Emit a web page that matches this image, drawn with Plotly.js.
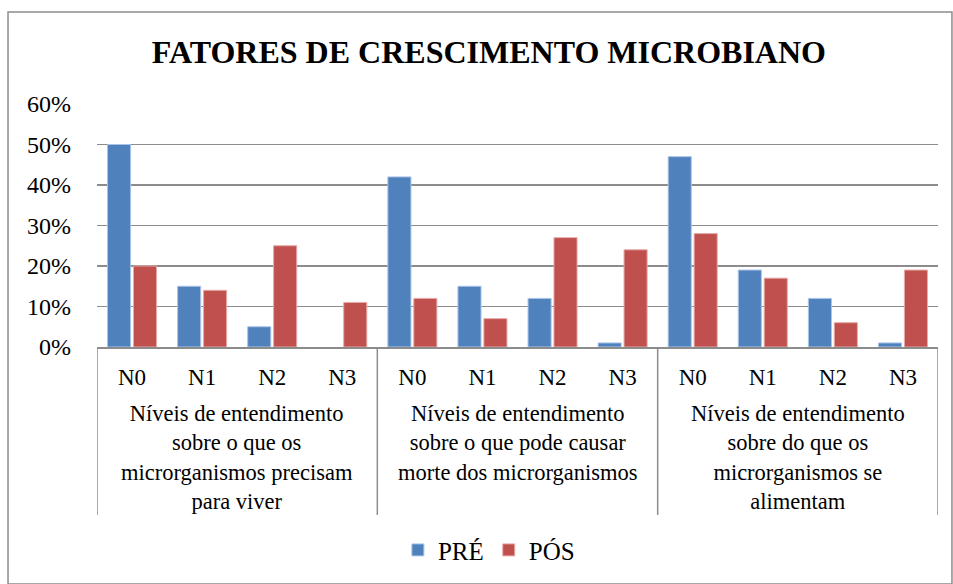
<!DOCTYPE html>
<html><head><meta charset="utf-8">
<script src="https://cdn.plot.ly/plotly-3.0.1.min.js"></script>
<style>html,body{margin:0;padding:0;background:#fff}#c{width:953px;height:584px}</style>
</head><body><div id="c"></div>
<script>
const levels = ["N0","N1","N2","N3"];
const groups = [
  "Níveis de entendimento<br>sobre o que os<br>microrganismos precisam<br>para viver",
  "Níveis de entendimento<br>sobre o que pode causar<br>morte dos microrganismos",
  "Níveis de entendimento<br>sobre do que os<br>microrganismos se<br>alimentam"
];
const pre = [0.50,0.15,0.05,0.00, 0.42,0.15,0.12,0.01, 0.47,0.19,0.12,0.01];
const pos = [0.20,0.14,0.25,0.11, 0.12,0.07,0.27,0.24, 0.28,0.17,0.06,0.19];
const seriesNames = ["PRÉ","PÓS"];

const xs = pre.map((_,i)=>i);
const tickText = xs.map(i=>levels[i%4]);
const font = "Liberation Serif";

const traces = [
  {type:"bar", x:xs, y:pre, name:seriesNames[0], marker:{color:"#4F81BD", line:{color:"#A9C4E8", width:pre.map(v=>v>0?1:0)}}},
  {type:"bar", x:xs, y:pos, name:seriesNames[1], marker:{color:"#C0504D", line:{color:"#E6A9A8", width:pos.map(v=>v>0?1:0)}}}
];

const shapes = [];
for (let g=0; g<=groups.length; g++) {
  shapes.push({type:"line", xref:"x", yref:"paper", x0:g*4-0.5, x1:g*4-0.5, y0:0, y1:-0.691, line:{color:"#8c8c8c", width:1.5}});
}
shapes.push({type:"rect", xref:"paper", yref:"paper", x0:-0.1058, x1:1.0166, y0:-0.975, y1:1.379, line:{color:"#8c8c8c", width:1.5}, layer:"below"});

const annotations = groups.map((g,i)=>({
  text:g, xref:"x", yref:"paper", x:i*4+1.5, y:-0.216, yanchor:"top", xanchor:"center",
  showarrow:false, font:{family:font, size:22.5, color:"#000"}, align:"center"
}));

const layout = {
  width:953, height:584,
  margin:{l:97, r:15, t:104, b:237},
  paper_bgcolor:"#fff", plot_bgcolor:"#fff",
  font:{family:font, color:"#000"},
  title:{text:"<b>FATORES DE CRESCIMENTO MICROBIANO</b>", font:{family:font, size:32, color:"#000"},
         xref:"container", x:0.513, y:0.911, yanchor:"middle", xanchor:"center"},
  barmode:"group", bargap:0.26, bargroupgap:0.11,
  xaxis:{range:[-0.5,11.5], tickvals:xs, ticktext:tickText, showgrid:false, zeroline:false,
         showline:true, linecolor:"#8c8c8c", linewidth:1.5, ticks:"", ticklabelstandoff:9,
         tickfont:{family:font, size:23, color:"#000"}},
  yaxis:{range:[0,0.6], dtick:0.1, tickformat:".0%", showgrid:true, gridcolor:"#8c8c8c", gridwidth:1.5,
         zeroline:false, showline:false, ticks:"", ticklabelstandoff:25,
         tickfont:{family:font, size:24, color:"#000"}},
  legend:{orientation:"h", xref:"container", yref:"container", x:0.513, xanchor:"center", y:0.058, yanchor:"middle",
          font:{family:font, size:25, color:"#000"}, itemwidth:30, tracegroupgap:0},
  shapes:shapes, annotations:annotations, showlegend:true
};
Plotly.newPlot("c", traces, layout, {displayModeBar:false, staticPlot:true});
</script></body></html>
